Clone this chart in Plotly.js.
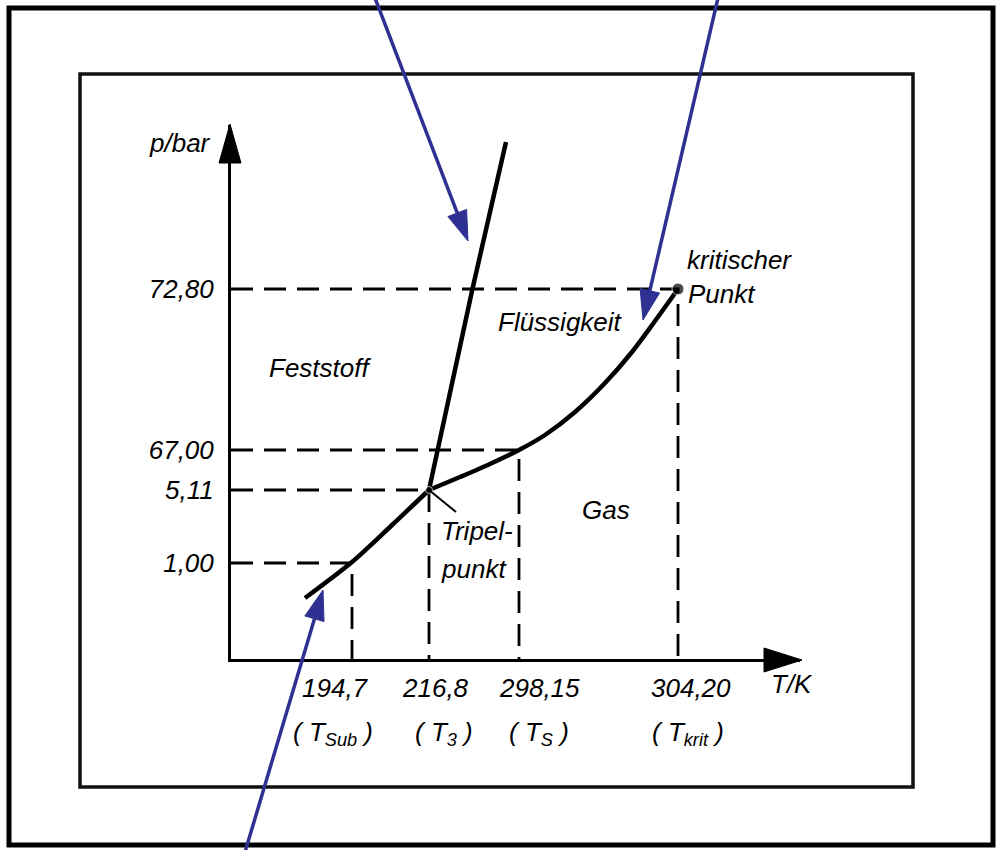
<!DOCTYPE html>
<html>
<head>
<meta charset="utf-8">
<script src="https://cdn.plot.ly/plotly-3.0.1.min.js"></script>
<style>
  html, body { margin: 0; padding: 0; background: #fff; }
  #chart { width: 997px; height: 850px; }
</style>
</head>
<body>
<div id="chart"></div>
<script>
// Phase diagram of CO2 – schematic, the axes are not drawn to scale.
const tempLabels  = ['194,7', '216,8', '298,15', '304,20'];
const tempSymbols = ['T<sub>Sub</sub>', 'T<sub>3</sub>', 'T<sub>S</sub>', 'T<sub>krit</sub>'];
const pressLabels = ['1,00', '5,11', '67,00', '72,80'];

// slot of each marked value along its (schematic) axis
const tempSlots  = [121, 198, 288, 447];
const pressSlots = [96, 169, 209, 370];

// phase boundaries in schematic axis units
const sublimT = [74, 121, 160, 198];
const sublimP = [61, 97, 133, 169];
const meltT   = [198, 241, 275];
const meltP   = [169, 368, 517];
const vaporT  = [198, 229, 259, 288, 314, 344, 374, 401, 424, 447];
const vaporP  = [169, 182, 195, 209, 224, 247, 276, 307, 338, 370];

// horizontal nudges (px) of the value / symbol labels under the T axis
const valueShift  = [-17, 6, 20, 13];
const symbolShift = [-19, 15, 20, 10];

// page geometry: plot area origin and size in pixels
const X0 = 231, Y0 = 659, W = 569, H = 534;
const px = v => (v - X0) / W;
const py = v => (Y0 - v) / H;

const FONT = 'Liberation Sans, Arial, Helvetica, sans-serif';
const FS = 26;
const BLUE = '#2e3192';

const traces = [];

// dashed guides from both axes to each marked point
for (let i = 0; i < tempSlots.length; i++) {
  traces.push({
    x: [0, tempSlots[i], tempSlots[i]],
    y: [pressSlots[i], pressSlots[i], 0],
    mode: 'lines',
    line: { color: '#000', width: 2.8, dash: '22px,11px' },
    hoverinfo: 'skip', showlegend: false
  });
}

const curveStyle = { color: '#000', width: 4.5, shape: 'spline', smoothing: 0.8 };
traces.push({ x: sublimT, y: sublimP, mode: 'lines', line: curveStyle, showlegend: false, hoverinfo: 'skip' });
traces.push({ x: meltT, y: meltP, mode: 'lines', line: { color: '#000', width: 4.5 }, showlegend: false, hoverinfo: 'skip' });
traces.push({ x: vaporT, y: vaporP, mode: 'lines', line: curveStyle, showlegend: false, hoverinfo: 'skip' });

// triple point and critical point
traces.push({
  x: [tempSlots[1], tempSlots[3]],
  y: [pressSlots[1], pressSlots[3]],
  mode: 'markers',
  marker: { color: '#000', size: [7, 12] },
  showlegend: false, hoverinfo: 'skip', cliponaxis: false
});

const shapes = [];
// outer and inner frames
shapes.push({ type: 'rect', xref: 'paper', yref: 'paper',
  x0: px(9), x1: px(993), y0: py(8), y1: py(845),
  line: { color: '#000', width: 5 } });
shapes.push({ type: 'rect', xref: 'paper', yref: 'paper',
  x0: px(80), x1: px(913), y0: py(74), y1: py(787),
  line: { color: '#111', width: 3.5 } });

// arrowheads at the ends of both axes
shapes.push({ type: 'path', xref: 'paper', yref: 'paper',
  path: `M${px(219)},${py(163)} L${px(241)},${py(163)} L${px(230)},${py(124)} Z`,
  fillcolor: '#000', line: { color: '#000', width: 1 } });
shapes.push({ type: 'path', xref: 'paper', yref: 'paper',
  path: `M${px(764)},${py(648)} L${px(764)},${py(672)} L${px(802)},${py(660)} Z`,
  fillcolor: '#000', line: { color: '#000', width: 1 } });

// leader line to the triple point label
shapes.push({ type: 'line', xref: 'x', yref: 'y',
  x0: tempSlots[1], y0: pressSlots[1], x1: tempSlots[1] + 27, y1: pressSlots[1] - 22,
  line: { color: '#000', width: 2 } });

// blue pointers onto the three phase boundaries
function pointer(x1, y1, x2, y2) {
  const dx = x2 - x1, dy = y2 - y1, L = Math.hypot(dx, dy);
  const ux = dx / L, uy = dy / L, nx = -uy, ny = ux;
  const hl = 30, hw = 10;
  const bx = x2 - ux * hl, by = y2 - uy * hl;
  shapes.push({ type: 'line', xref: 'paper', yref: 'paper',
    x0: px(x1), y0: py(y1), x1: px(bx + ux * 3), y1: py(by + uy * 3),
    line: { color: BLUE, width: 3.5 } });
  shapes.push({ type: 'path', xref: 'paper', yref: 'paper',
    path: `M${px(x2)},${py(y2)} L${px(bx + nx * hw)},${py(by + ny * hw)} L${px(bx - nx * hw)},${py(by - ny * hw)} Z`,
    fillcolor: BLUE, line: { color: BLUE, width: 1 } });
}
pointer(375, -2, 468, 241);
pointer(718, -2, 643, 320);
pointer(245, 852, 323, 590);

const annotations = [];
const textFont = { family: FONT, size: FS, color: '#000', style: 'italic' };
function label(text, x, y, xanchor) {
  annotations.push({ text, xref: 'paper', yref: 'paper', x: px(x), y: py(y),
    xanchor: xanchor || 'center', yanchor: 'middle', showarrow: false, font: textFont });
}
// value row and symbol row under the temperature axis
for (let i = 0; i < tempSlots.length; i++) {
  annotations.push({ text: tempLabels[i], xref: 'x', yref: 'paper',
    x: tempSlots[i], xshift: valueShift[i], y: py(688),
    xanchor: 'center', yanchor: 'middle', showarrow: false, font: textFont });
  annotations.push({ text: '( ' + tempSymbols[i] + ' )', xref: 'x', yref: 'paper',
    x: tempSlots[i], xshift: symbolShift[i], y: py(733),
    xanchor: 'center', yanchor: 'middle', showarrow: false, font: textFont });
}
label('p/bar', 213, 143, 'right');
label('T/K', 769, 684, 'left');
label('Feststoff', 320, 368);
label('Flüssigkeit', 496, 322, 'left');
label('Gas', 606, 510);
label('Tripel-', 439, 531, 'left');
label('punkt', 439, 569, 'left');
label('kritischer', 685, 260, 'left');
label('Punkt', 686, 294, 'left');

const layout = {
  width: 997, height: 850,
  margin: { l: X0, r: 997 - X0 - W, t: Y0 - H, b: 850 - Y0 },
  paper_bgcolor: '#fff', plot_bgcolor: '#fff',
  font: { family: FONT, color: '#000', style: 'italic' },
  showlegend: false,
  xaxis: {
    range: [0, W], showline: true, linewidth: 3, linecolor: '#000',
    showgrid: false, zeroline: false, ticks: '',
    tickmode: 'array', tickvals: tempSlots, showticklabels: false, fixedrange: true
  },
  yaxis: {
    range: [0, H], showline: true, linewidth: 3, linecolor: '#000',
    showgrid: false, zeroline: false, ticks: '',
    tickmode: 'array', tickvals: pressSlots, ticktext: pressLabels,
    tickfont: textFont, ticklabelstandoff: 9, fixedrange: true
  },
  shapes, annotations
};

Plotly.newPlot('chart', traces, layout, { staticPlot: true, displayModeBar: false });
</script>
</body>
</html>
